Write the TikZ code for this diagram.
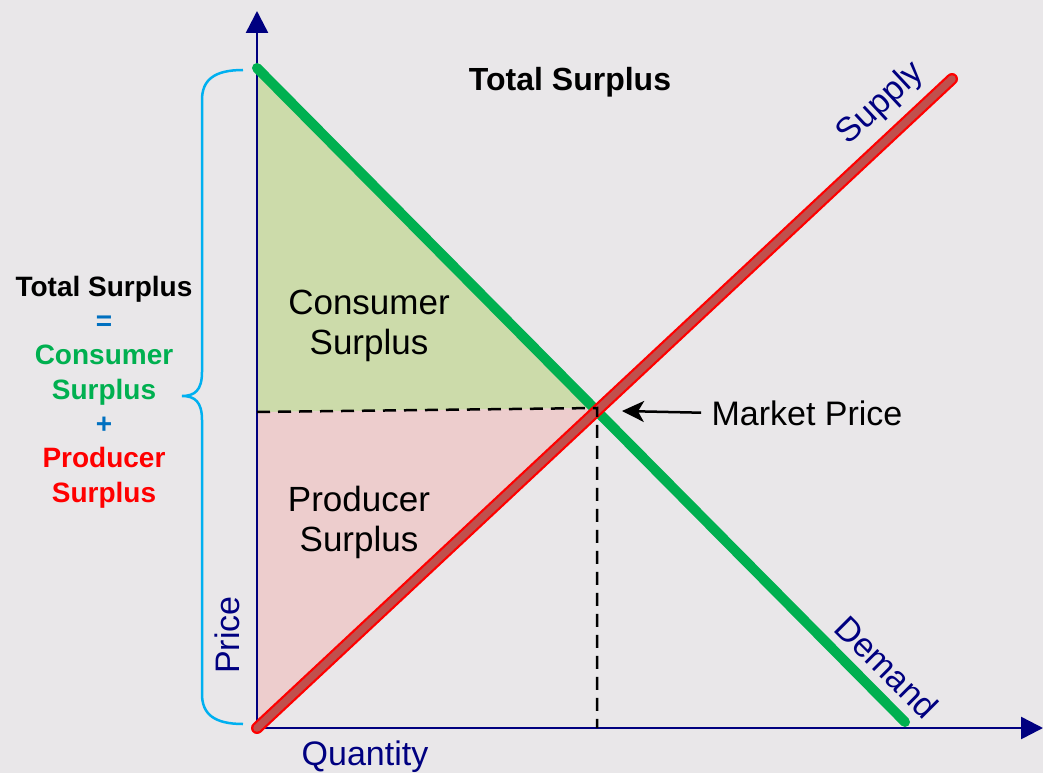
\documentclass[tikz,border=0pt]{standalone}
\usepackage{fontspec}
\setmainfont{Liberation Sans}
\usetikzlibrary{arrows.meta}
\definecolor{bgcol}{HTML}{E9E7E9}
\definecolor{axiscol}{HTML}{000080}
\definecolor{demandcol}{HTML}{00B050}
\definecolor{supplyout}{HTML}{FF0000}
\definecolor{supplyin}{HTML}{C0504D}
\definecolor{consfill}{HTML}{CCDBAA}
\definecolor{prodfill}{HTML}{EDCDCD}
\definecolor{bracecol}{HTML}{00B0F0}
\definecolor{opcol}{HTML}{0070C0}
\tikzset{
	axislabel/.style={text=axiscol,font=\fontsize{34}{40}\selectfont},
	arealabel/.style={align=center,font=\fontsize{35}{40}\selectfont},
	sumlabel/.style={align=center,font=\bfseries\fontsize{28}{34.3}\selectfont},
}
\begin{document}
\begin{tikzpicture}[x=1pt,y=-1pt,line cap=butt,line join=miter,>={Triangle[length=22pt,width=22pt]}]
		\fill[bgcol] (0,0) rectangle (1043,773);
		\useasboundingbox (0,0) rectangle (1043,773);
		\coordinate (O) at (257,728);
		\coordinate (D1) at (257,68);
		\coordinate (D2) at (905,722);
		\coordinate (S2) at (952,79);
		\coordinate (E) at (597,408);
		\coordinate (P) at (257,412);
		\coordinate (Q) at (597,728);
		
		\fill[consfill] (D1)--(E)--(P)--cycle;
		\fill[prodfill] (P)--(E)--(O)--cycle;
		
		\draw[axiscol,line width=2.5pt,->] (O)--(1043,728);
		\draw[axiscol,line width=2.5pt,->] (O)--(257,11);
		
		\draw[demandcol,line width=10pt,line cap=round] (D1)--(D2);
		\draw[supplyout,line width=12pt,line cap=round] (O)--(S2);
		\draw[supplyin,line width=7.5pt,line cap=round] (O)--(S2);
		
		\draw[line width=2.5pt,dash pattern=on 13pt off 8pt] (P)--(E)--(Q);
		
		\draw[bracecol,line width=2.5pt] (243,70) .. controls (214,70) and (202,80) .. (202,100)
			-- (202,372) .. controls (202,390) and (195,396) .. (182,396)
			.. controls (195,396) and (202,402) .. (202,420)
			-- (202,694) .. controls (202,714) and (214,724) .. (243,724);
		
		\node[anchor=base,font=\bfseries\fontsize{32}{38}\selectfont] (title) at (570,91) {Total Surplus};
		\node[arealabel] (cs) at (369,326) {Consumer\\Surplus};
		\node[arealabel] (ps) at (359,522) {Producer\\Surplus};
		\node[anchor=base,font=\fontsize{34}{40}\selectfont] (mp) at (807,425) {Market Price};
		\draw[line width=2.5pt,-{Stealth[length=22pt,width=21pt,inset=6pt]},shorten <=7pt] (mp.west)--(622,411);
		
		\node[sumlabel] (ts) at (104,392) {Total Surplus\\{\color{opcol}=}\\{\color{demandcol}Consumer}\\{\color{demandcol}Surplus}\\{\color{opcol}+}\\{\color{supplyout}Producer}\\{\color{supplyout}Surplus}};
		
		\node[axislabel,rotate=43] (sup) at (881,104) {Supply};
		\node[axislabel,rotate=-45] (dem) at (887,667) {Demand};
		\node[axislabel,rotate=90] (pr) at (227,635) {Price};
		\node[axislabel,anchor=base] (qu) at (365,765) {Quantity};
	\end{tikzpicture}
\end{document}
